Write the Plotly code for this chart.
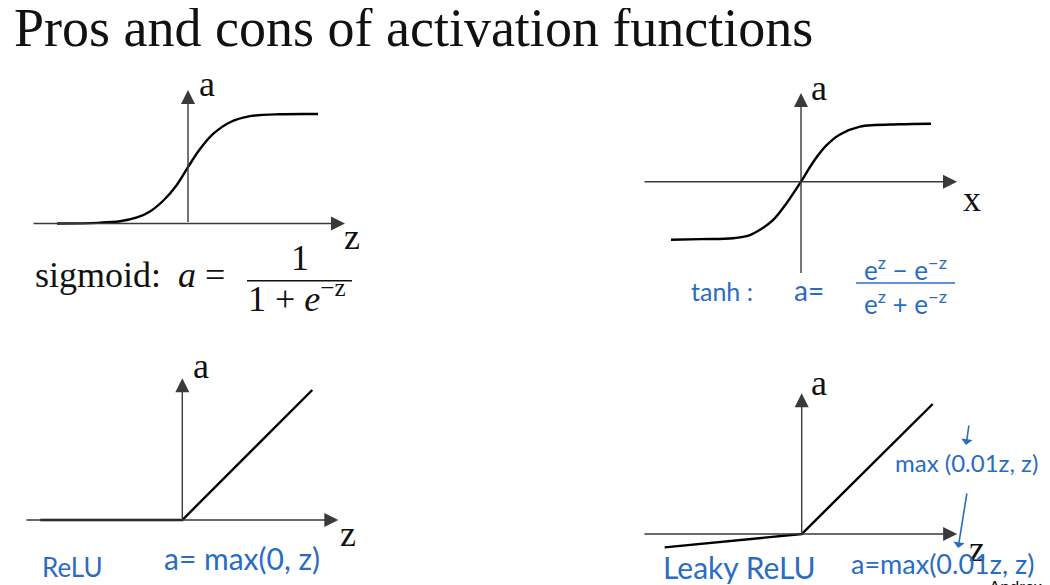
import plotly.graph_objects as go

# ---------------- data ----------------
TITLE = "Pros and cons of activation functions"

sig_z = [-6.55, -4.5, -3.4, -2.55, -1.9, -1.23, -0.57, 0.0, 0.6, 1.27, 2.1, 3.1, 4.6, 6.5]
sig_a = [0.0, 0.006, 0.02, 0.055, 0.11, 0.21, 0.35, 0.515, 0.68, 0.82, 0.925, 0.98, 0.998, 1.0]

tanh_x = [-6.5, -5.0, -3.4, -2.55, -2.05, -1.39, -0.72, 0.0, 0.62, 1.28, 1.95, 2.95, 4.95, 6.5]
tanh_a = [-1.0, -0.99, -0.975, -0.92, -0.83, -0.66, -0.37, 0.0, 0.345, 0.63, 0.815, 0.95, 0.99, 1.0]

relu_z = [-7.1, 0.0, 6.5]
relu_a = [0.0, 0.0, 6.5]

leaky_z = [-6.85, 0.0, 6.55]
leaky_a = [-0.67, 0.0, 6.5]

# ---------------- layout helpers ----------------
W, H = 1050, 585          # page size
OFF = 8                   # page body margin
WF, HF = W - OFF, H - OFF  # figure size
SERIF = "Liberation Serif, Times New Roman, serif"
HAND = "Lato, Noto Sans, sans-serif"
BLUE = "#2a6cc4"
INK = "#111111"
AXC = "#3a3a3a"

# box (left, top, right, bottom) in page px, origin page px, px per unit x / y
panels = [
    dict(box=(8, 60, 420, 335), origin=(188, 223.5), sx=20, sy=109.5),
    dict(box=(620, 60, 1050, 335), origin=(801, 181.7), sx=20, sy=58),
    dict(box=(8, 335, 420, 585), origin=(182.3, 520), sx=20, sy=20),
    dict(box=(620, 335, 1050, 585), origin=(801.7, 534), sx=20, sy=20),
]

fig = go.Figure()
layout = {}
for i, p in enumerate(panels, start=1):
    s = "" if i == 1 else str(i)
    l, t, r, b = p["box"]
    ox, oy = p["origin"]
    layout["xaxis" + s] = dict(domain=[(l - OFF) / WF, (r - OFF) / WF],
                               range=[(l - ox) / p["sx"], (r - ox) / p["sx"]],
                               visible=False, fixedrange=True, anchor="y" + s)
    layout["yaxis" + s] = dict(domain=[1 - (b - OFF) / HF, 1 - (t - OFF) / HF],
                               range=[(oy - b) / p["sy"], (oy - t) / p["sy"]],
                               visible=False, fixedrange=True, anchor="x" + s)

curves = [(sig_z, sig_a, "spline"), (tanh_x, tanh_a, "spline"),
          (relu_z, relu_a, "linear"), (leaky_z, leaky_a, "linear")]
for i, (xs, ys, shp) in enumerate(curves, start=1):
    s = "" if i == 1 else str(i)
    fig.add_trace(go.Scatter(x=xs, y=ys, mode="lines", xaxis="x" + s, yaxis="y" + s,
                             line=dict(color="#000", width=2.4, shape=shp, smoothing=0.9),
                             hoverinfo="skip", showlegend=False))

annots = []
shapes = []


def axis_arrow(s, x0, y0, x1, y1):
    annots.append(dict(x=x1, y=y1, ax=x0, ay=y0, xref="x" + s, yref="y" + s,
                       axref="x" + s, ayref="y" + s, text="", showarrow=True,
                       arrowhead=2, arrowsize=2.0, arrowwidth=1.4, arrowcolor=AXC))


def plain_line(s, x0, y0, x1, y1, color=AXC, width=1.4):
    shapes.append(dict(type="line", xref="x" + s, yref="y" + s, x0=x0, y0=y0, x1=x1, y1=y1,
                       line=dict(color=color, width=width)))


def label(s, x, y, text, size=36, font=SERIF, color=INK, xanchor="center"):
    annots.append(dict(x=x, y=y, xref="x" + s, yref="y" + s, text=text, showarrow=False,
                       xanchor=xanchor, yanchor="middle",
                       font=dict(family=font, size=size, color=color)))


def hand_arrow(s, x0, y0, x1, y1):
    annots.append(dict(x=x1, y=y1, ax=x0, ay=y0, xref="x" + s, yref="y" + s,
                       axref="x" + s, ayref="y" + s, text="", showarrow=True,
                       arrowhead=1, arrowsize=1.2, arrowwidth=1.6, arrowcolor=BLUE))


# ---- panel 1: sigmoid
axis_arrow("", -7.8, 0, 7.85, 0)
axis_arrow("", 0, 0, 0, 1.22)
label("", 0.95, 1.274, "a")
label("", 8.2, -0.123, "z")
label("", -7.75, -0.47, "sigmoid:", xanchor="left")
label("", -0.6, -0.47, "<i>a</i> =", xanchor="left")
plain_line("", 2.95, -0.522, 8.2, -0.522, color=INK, width=1.5)
label("", 5.6, -0.315, "1")
label("", 5.45, -0.665, "1 + <i>e</i><sup>−z</sup>")

# ---- panel 2: tanh
axis_arrow("2", -7.9, 0, 7.8, 0)
plain_line("2", 0, -1.574, 0, 0)
axis_arrow("2", 0, 0, 0, 1.53)
label("2", 0.9, 1.615, "a")
label("2", 8.55, -0.3, "x")
label("2", -3.95, -1.885, "tanh :", size=25, font=HAND, color=BLUE)
label("2", 0.4, -1.867, "a=", size=28, font=HAND, color=BLUE)
plain_line("2", 2.75, -1.747, 7.7, -1.747, color=BLUE, width=1.5)
label("2", 5.2, -1.505, "e<sup>z</sup> − e<sup>−z</sup>", size=26, font=HAND, color=BLUE)
label("2", 5.2, -2.09, "e<sup>z</sup> + e<sup>−z</sup>", size=26, font=HAND, color=BLUE)

# ---- panel 3: ReLU
axis_arrow("3", -7.87, 0, 7.8, 0)
axis_arrow("3", 0, 0, 0, 7.09)
label("3", 0.94, 7.7, "a")
label("3", 8.29, -0.7, "z")
label("3", -5.47, -2.35, "ReLU", size=26, font=HAND, color=BLUE)
label("3", 2.99, -1.9, "a= max(0, z)", size=30, font=HAND, color=BLUE)

# ---- panel 4: Leaky ReLU
axis_arrow("4", -7.94, 0, 7.77, 0)
axis_arrow("4", 0, 0, 0, 7.04)
label("4", 0.87, 7.55, "a")
label("4", 8.77, -0.75, "z")
hand_arrow("4", 8.37, 5.5, 8.22, 4.45)
label("4", 8.25, 3.6, "max (0.01z, z)", size=24, font=HAND, color=BLUE)
hand_arrow("4", 8.27, 2.1, 7.82, -0.7)
label("4", -3.09, -1.65, "Leaky ReLU", size=30, font=HAND, color=BLUE)
label("4", 7.02, -1.45, "a=max(0.01z, z)", size=27, font=HAND, color=BLUE)

# ---- title and credit
annots.append(dict(x=(12 - OFF) / WF, y=1 - (28 - OFF) / HF, xref="paper", yref="paper", text=TITLE,
                   showarrow=False, xanchor="left", yanchor="middle",
                   font=dict(family=SERIF, size=54, color=INK)))
annots.append(dict(x=(987 - OFF) / WF, y=1 - (576 - OFF) / HF, xref="paper", yref="paper",
                   text="Andrew Ng", showarrow=False, xanchor="left", yanchor="top",
                   font=dict(family="Liberation Sans, Arial, sans-serif", size=17, color=INK)))

fig.update_layout(width=WF, height=HF, margin=dict(l=0, r=0, t=0, b=0),
                  paper_bgcolor="white", plot_bgcolor="white",
                  annotations=annots, shapes=shapes, showlegend=False, **layout)

fig.write_html("out.html")
